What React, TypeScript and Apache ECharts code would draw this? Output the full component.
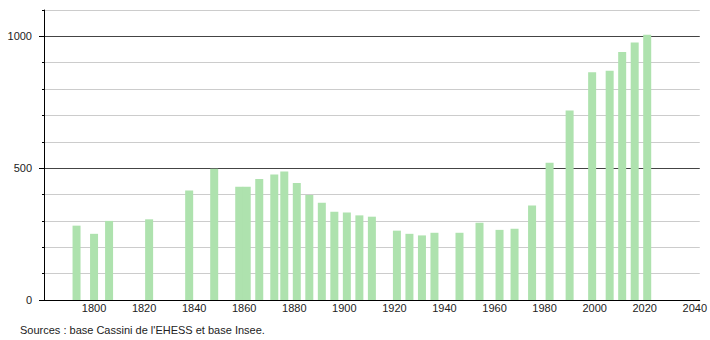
import React, { useEffect, useRef } from "react";
import * as echarts from "echarts";

const years = [1793, 1800, 1806, 1822, 1838, 1848, 1858, 1861, 1866, 1872, 1876, 1881, 1886, 1891, 1896, 1901, 1906, 1911, 1921, 1926, 1931, 1936, 1946, 1954, 1962, 1968, 1975, 1982, 1990, 1999, 2006, 2011, 2016, 2021];
const population = [282, 251, 300, 306, 415, 498, 430, 430, 459, 476, 487, 444, 398, 369, 335, 332, 321, 316, 263, 251, 245, 255, 255, 293, 266, 270, 358, 521, 719, 864, 870, 941, 977, 1006];
const yLabelValues = [0, 500, 1000];
const sourceText = "Sources : base Cassini de l'EHESS et base Insee.";

export default function App() {
  const ref = useRef<HTMLDivElement>(null);
  useEffect(() => {
    if (!ref.current) return;
    const chart = echarts.init(ref.current, null, { renderer: "svg" });
    const font = "'Liberation Sans', Arial, sans-serif";
    chart.setOption({
      animation: false,
      textStyle: { fontFamily: font },
      grid: { left: 44, right: 9, top: 10, bottom: 40, containLabel: false },
      xAxis: {
        type: "value",
        min: 1780,
        max: 2042,
        interval: 20,
        axisLine: { show: true, lineStyle: { color: "#000", width: 1 } },
        axisTick: { show: false },
        splitLine: { show: false },
        axisLabel: {
          margin: 2,
          fontSize: 11,
          color: "#222",
          fontFamily: font,
          formatter: (v: number) => (v % 20 === 0 && v > 1780 ? String(v) : ""),
        },
      },
      yAxis: [
        {
          type: "value",
          min: 0,
          max: 1100,
          interval: 100,
          position: "left",
          axisLine: { show: true, lineStyle: { color: "#000", width: 1 } },
          axisTick: { show: true, length: 2, lineStyle: { color: "#000" } },
          axisLabel: { show: false },
          splitLine: {
            show: true,
            lineStyle: { color: ["#444", "#cccccc", "#cccccc", "#cccccc", "#cccccc"], width: 1 },
          },
        },
        {
          type: "value",
          min: 0,
          max: 1100,
          interval: 500,
          position: "left",
          offset: 0,
          axisLine: { show: false },
          axisTick: {
            show: true,
            length: 5,
            customValues: yLabelValues,
            lineStyle: { color: "#000" },
          },
          axisLabel: {
            margin: 12,
            fontSize: 11,
            color: "#222",
            fontFamily: font,
            customValues: yLabelValues,
            formatter: (v: number) => String(v),
          },
          splitLine: { show: false },
        },
      ],
      series: [
        {
          type: "bar",
          yAxisIndex: 0,
          barWidth: 8,
          itemStyle: { color: "#aee2ae" },
          data: years.map((y, i) => [y, population[i]]),
        },
      ],
      graphic: [
        {
          type: "text",
          left: 20,
          top: 324,
          style: { text: sourceText, fontSize: 11, fill: "#222", font: `11px ${font}` },
        },
      ],
    });
    return () => chart.dispose();
  }, []);
  return <div ref={ref} style={{ width: 710, height: 340, position: "absolute", left: 0, top: 0 }} />;
}
